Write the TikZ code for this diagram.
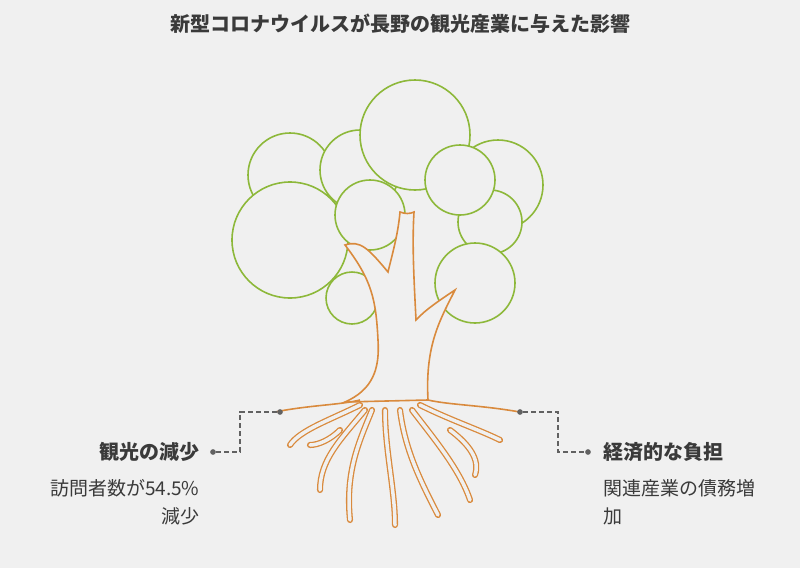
\documentclass[tikz,border=0pt]{standalone}
\usepackage{fontspec}
\setmainfont{Noto Sans CJK JP}
\definecolor{bg}{HTML}{F0F0F0}
\definecolor{leaf}{HTML}{8DB83A}
\definecolor{bark}{HTML}{D98A3D}
\definecolor{txt}{HTML}{3A3A3A}
\begin{document}
\begin{tikzpicture}[x=1pt,y=-1pt,
  cl/.style={draw=leaf,line width=1.6pt,fill=bg},
  rt/.style={draw=bark,line width=1.3pt,double=bg,double distance=3.5pt,line cap=round},
  tr/.style={draw=bark,line width=1.6pt},
  dl/.style={draw=txt!80,dash pattern=on 5pt off 3pt,line width=1.3pt},
  dt/.style={circle,fill=txt!80,inner sep=2pt},
  hd/.style={font=\bfseries\fontsize{20}{24}\selectfont,text=txt},
  bd/.style={font=\fontsize{19}{28}\selectfont,text=txt,align=left}]
\fill[bg] (0,0) rectangle (800,568);
\useasboundingbox (0,0) rectangle (800,568);
\node[font=\bfseries\fontsize{20}{24}\selectfont,text=txt] (title) at (400,24) {新型コロナウイルスが長野の観光産業に与えた影響};
% canopy
\draw[cl] (290,175) circle (42);
\draw[cl] (290,240) circle (58);
\draw[cl] (360,170) circle (40);
\draw[cl] (498,185) circle (45);
\draw[cl] (490,222) circle (32);
\draw[cl] (415,135) circle (55);
\draw[cl] (460,180) circle (35);
\draw[cl] (370,215) circle (35);
\draw[cl] (475,283) circle (40);
\draw[cl] (352,298) circle (26);
% trunk
\draw[tr,fill=bg] (345,402) .. controls (372,390) and (380,370) .. (378,340)
  .. controls (376,300) and (372,280) .. (345,245)
  .. controls (360,240) and (368,248) .. (388,272)
  .. controls (392,255) and (398,235) .. (400,212)
  .. controls (405,214) and (410,214) .. (414,212)
  .. controls (412,245) and (414,280) .. (416,320)
  .. controls (425,310) and (440,300) .. (455,290)
  .. controls (440,320) and (425,345) .. (428,400)
  -- cycle;
% roots
\draw[tr] (275,412) .. controls (310,405) and (340,405) .. (360,400);
\draw[tr] (520,412) .. controls (480,405) and (450,405) .. (428,400);
\draw[rt] (360,405) .. controls (330,420) and (300,430) .. (290,445);
\draw[rt] (365,410) .. controls (340,440) and (320,460) .. (320,490);
\draw[rt] (372,410) .. controls (360,440) and (345,470) .. (350,520);
\draw[rt] (385,410) .. controls (385,450) and (395,490) .. (395,525);
\draw[rt] (400,410) .. controls (405,450) and (420,480) .. (438,515);
\draw[rt] (412,410) .. controls (435,440) and (460,470) .. (470,500);
\draw[rt] (420,405) .. controls (450,420) and (480,430) .. (500,440);
\draw[rt] (340,430) .. controls (330,440) and (318,445) .. (310,445);
\draw[rt] (450,430) .. controls (470,445) and (480,460) .. (475,475);
% left label
\node[dt] (l1) at (280,412) {};
\node[dt] (l2) at (213,452) {};
\coordinate (lc1) at (240,412);
\coordinate (lc2) at (240,452);
\draw[dl] (l1) -- (lc1) -- (lc2) -- (l2);
\node[hd,anchor=east] (lh) at (203,452) {観光の減少};
\node[bd,anchor=north east,align=right] (lb) at (203,476) {訪問者数が54.5\%\\減少};
% right label
\node[dt] (r1) at (520,412) {};
\node[dt] (r2) at (588,452) {};
\coordinate (rc1) at (558,412);
\coordinate (rc2) at (558,452);
\draw[dl] (r1) -- (rc1) -- (rc2) -- (r2);
\node[hd,anchor=west] (rh) at (600,452) {経済的な負担};
\node[bd,anchor=north west] (rb) at (600,476) {関連産業の債務増\\加};
\end{tikzpicture}
\end{document}
